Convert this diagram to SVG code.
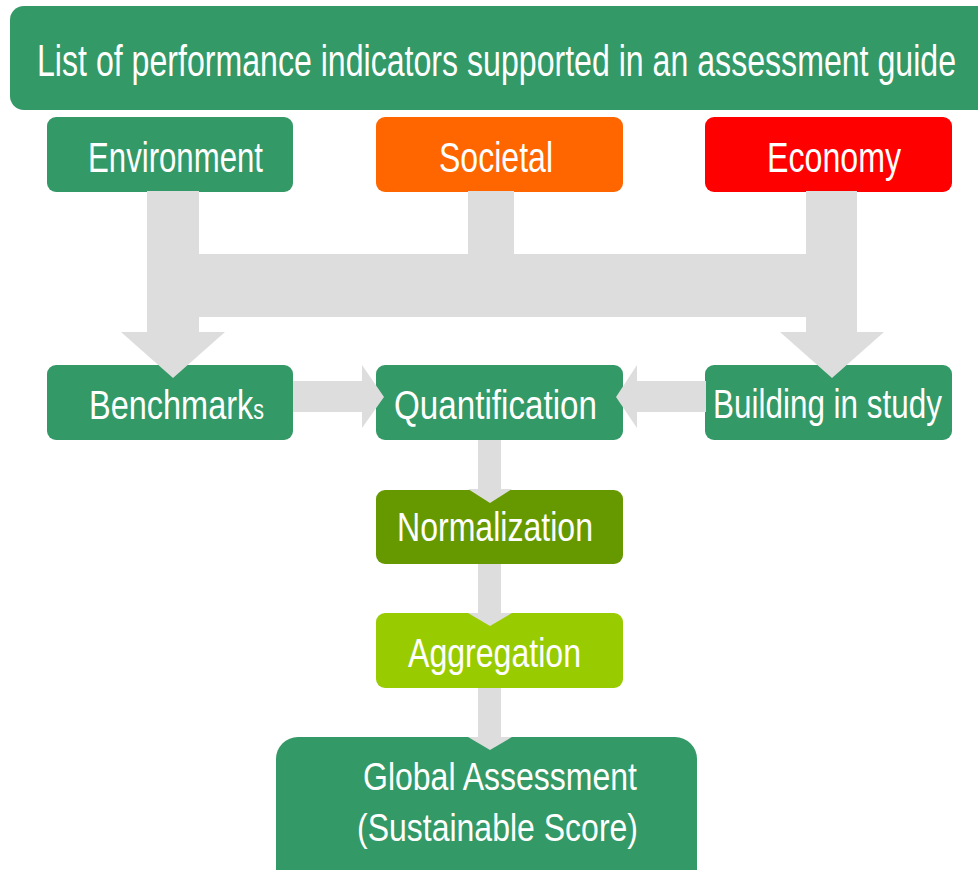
<svg xmlns="http://www.w3.org/2000/svg" width="978" height="870" viewBox="0 0 978 870">
<style>
.t{font-family:"Liberation Sans",Arial,sans-serif;fill:#fff}
.g{fill:#339966}
.c{fill:#dddddd}
</style>
<rect width="978" height="870" fill="#fff"/>
<g id="title"><rect class="g" x="10" y="6" width="1000" height="104" rx="14"/><text class="t" x="37" y="76" font-size="44" textLength="919" lengthAdjust="spacingAndGlyphs">List of performance indicators supported in an assessment guide</text></g>
<g id="environment"><rect class="g" x="47" y="117" width="246" height="75" rx="9"/><text class="t" x="88" y="172" font-size="42" textLength="175" lengthAdjust="spacingAndGlyphs">Environment</text></g>
<g id="societal"><rect fill="#ff6600" x="376" y="117" width="247" height="75" rx="9"/><text class="t" x="439" y="172" font-size="42" textLength="114" lengthAdjust="spacingAndGlyphs">Societal</text></g>
<g id="economy"><rect fill="#ff0000" x="705" y="117" width="247" height="75" rx="9"/><text class="t" x="767" y="172" font-size="42" textLength="134" lengthAdjust="spacingAndGlyphs">Economy</text></g>
<g id="benchmarks"><rect class="g" x="47" y="365" width="246" height="75" rx="9"/><text class="t" x="89" y="419" font-size="41" textLength="175" lengthAdjust="spacingAndGlyphs">Benchmark<tspan font-size="27">s</tspan></text></g>
<g id="quantification"><rect class="g" x="376" y="365" width="247" height="75" rx="9"/><text class="t" x="394" y="419" font-size="41" textLength="203" lengthAdjust="spacingAndGlyphs">Quantification</text></g>
<g id="building"><rect class="g" x="705" y="365" width="247" height="75" rx="9"/><text class="t" x="713" y="418" font-size="41" textLength="229" lengthAdjust="spacingAndGlyphs">Building in study</text></g>
<g id="normalization"><rect fill="#669900" x="376" y="490" width="247" height="74" rx="9"/><text class="t" x="397" y="541" font-size="40" textLength="196" lengthAdjust="spacingAndGlyphs">Normalization</text></g>
<g id="aggregation"><rect fill="#99cc00" x="376" y="613" width="247" height="75" rx="9"/><text class="t" x="408" y="667" font-size="40" textLength="173" lengthAdjust="spacingAndGlyphs">Aggregation</text></g>
<g id="global"><rect class="g" x="276" y="737" width="421" height="160" rx="22"/><text class="t" x="363" y="790" font-size="38" textLength="274" lengthAdjust="spacingAndGlyphs">Global Assessment</text><text class="t" x="357" y="841" font-size="38" textLength="281" lengthAdjust="spacingAndGlyphs">(Sustainable Score)</text></g>
<g id="connectors">
<rect class="c" x="147" y="191" width="52" height="142"/>
<polygon class="c" points="121,332 225,332 173,378"/>
<rect class="c" x="806" y="191" width="51" height="142"/>
<polygon class="c" points="780,332 884,332 832,378"/>
<rect class="c" x="198" y="254" width="609" height="63"/>
<rect class="c" x="468" y="191" width="46" height="64"/>
<rect class="c" x="293" y="381" width="70" height="31"/>
<polygon class="c" points="362,365 362,428 384,397"/>
<rect class="c" x="636" y="381" width="70" height="31"/>
<polygon class="c" points="637,365 637,428 616,397"/>
<rect class="c" x="478" y="440" width="23" height="50"/>
<polygon class="c" points="468,489 512,489 490,503"/>
<rect class="c" x="478" y="564" width="23" height="50"/>
<polygon class="c" points="468,613 512,613 490,626"/>
<rect class="c" x="478" y="688" width="23" height="50"/>
<polygon class="c" points="468,737 512,737 490,750"/>
</g>
</svg>
